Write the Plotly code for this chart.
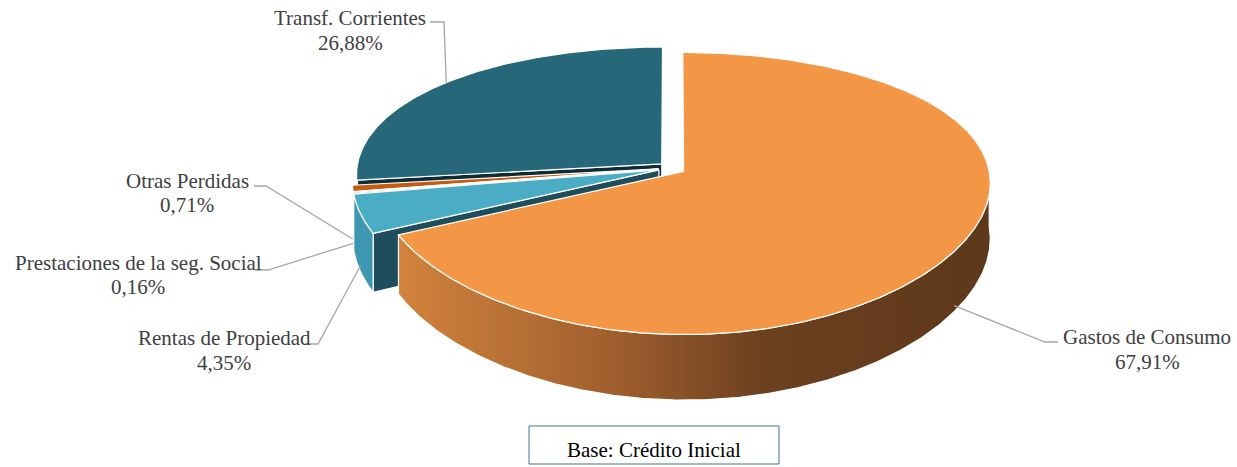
import numpy as np
import plotly.graph_objects as go

# ---------------- data ----------------
categories = ["Gastos de Consumo", "Rentas de Propiedad", "Prestaciones de la seg. Social",
              "Otras Perdidas", "Transf. Corrientes"]
values = [67.91, 4.35, 0.16, 0.71, 26.88]
base_text = "Base: Crédito Inicial"

# ---------------- style ----------------
top_colors = ["#F39645", "#4BACC6", "#7FB8C9", "#C55A11", "#26677A"]
face_colors = ["#8A5228", "#1F4D5C", "#3D7F92", "#7A3A0C", "#0F2B35"]
side_colors = [None, "#3E97B0", "#6FA8B8", "#A34B0E", "#1D5161"]
gastos_side_scale = [[0, "#D2833D"], [0.35, "#A2602E"], [0.62, "#6B401F"], [1, "#5E381B"]]

CX, CY = 672, 168
A = 305
B = 136.5
PX, PY = 0.08, 0.157      # perspective factors
DEPTH = 55
EXPLODE = 0.045

# label layout: name centre x, name y, value y, stub start x, elbow x, stub y
label_layout = [
    (1147, 337, 362, 1058, 1045, 342),
    (224, 338, 363, 305, 318, 344),
    (138, 263, 287, 255, 268, 270),
    (187, 181, 205, 254, 266, 186),
    (350, 18, 43, 430, 444, 22),
]
FONT = "Liberation Serif, Times New Roman, serif"


def pt(theta, r, mid, dzf=0.0):
    t = np.radians(theta)
    m = np.radians(mid)
    u = r * np.sin(t) + EXPLODE * np.sin(m)
    v = r * np.cos(t) + EXPLODE * np.cos(m)
    sx = 1.0 / (1.0 + PX * v)
    sy = 1.0 / (1.0 + PY * v)
    return CX + A * u * sx, CY - B * v * sy + dzf * DEPTH * sy


total = sum(values)
spans = [360.0 * v / total for v in values]
starts = np.concatenate([[0.0], np.cumsum(spans)[:-1]])

fig = go.Figure()


def poly(xs, ys, fillcolor=None, gradient=None):
    kw = dict(x=list(xs), y=list(ys), mode="lines", fill="toself",
              line=dict(color="white", width=1.2), hoverinfo="skip", showlegend=False)
    if gradient is not None:
        kw["fillgradient"] = dict(type="horizontal", colorscale=gradient)
    else:
        kw["fillcolor"] = fillcolor
    fig.add_trace(go.Scatter(**kw))


anchors = []
for i in range(len(values)):
    t1, t2 = starts[i], starts[i] + spans[i]
    mid = (t1 + t2) / 2
    if np.cos(np.radians(mid)) < 0:
        anchors.append(pt(mid, 1.0, mid, 0.9))
    else:
        anchors.append(pt(mid, 1.0, mid, 0))

order = [4, 3, 2, 1, 0]
for i in order:
    t1, t2 = starts[i], starts[i] + spans[i]
    mid = (t1 + t2) / 2
    vx, vy = pt(0, 0.0, mid)
    vbx, vby = pt(0, 0.0, mid, 1.0)
    # radial faces
    for th, visible in ((t1, np.sin(np.radians(t1)) < -1e-9), (t2, np.sin(np.radians(t2)) > 1e-9)):
        if visible:
            rx, ry = pt(th, 1.0, mid)
            rbx, rby = pt(th, 1.0, mid, 1.0)
            poly([vx, rx, rbx, vbx, vx], [vy, ry, rby, vby, vy], face_colors[i])
    # outer side wall (front part)
    s1, s2 = max(t1, 90.0), min(t2, 270.0)
    if s2 > s1:
        th = np.linspace(s1, s2, max(3, int(s2 - s1) * 2 + 2))
        ax, ay = pt(th, 1.0, mid)
        bx, by = pt(th, 1.0, mid, 1.0)
        xs = np.concatenate([ax, bx[::-1], ax[:1]])
        ys = np.concatenate([ay, by[::-1], ay[:1]])
        if i == 0:
            poly(xs, ys, gradient=gastos_side_scale)
        else:
            poly(xs, ys, side_colors[i])
    # top face
    th = np.linspace(t1, t2, max(3, int(t2 - t1) * 2 + 2))
    ax, ay = pt(th, 1.0, mid)
    xs = np.concatenate([[vx], ax, [vx]])
    ys = np.concatenate([[vy], ay, [vy]])
    poly(xs, ys, top_colors[i])

# leader lines and labels
for i, cat in enumerate(categories):
    nx, ny, valy, sx, ex, sy = label_layout[i]
    axp, ayp = anchors[i]
    fig.add_trace(go.Scatter(x=[sx, ex, float(axp)], y=[sy, sy, float(ayp)], mode="lines",
                             line=dict(color="#A6A6A6", width=1.3), hoverinfo="skip",
                             showlegend=False))
    pct = f"{values[i]:.2f}".replace(".", ",") + "%"
    fig.add_annotation(x=nx, y=ny, text=cat, showarrow=False, xanchor="center", yanchor="middle",
                       font=dict(family=FONT, size=21, color="#404040"))
    fig.add_annotation(x=nx, y=valy, text=pct, showarrow=False, xanchor="center", yanchor="middle",
                       font=dict(family=FONT, size=21, color="#404040"))

# base box
fig.add_shape(type="rect", x0=529, x1=779, y0=426, y1=464, xref="x", yref="y",
              line=dict(color="#41719C", width=1), fillcolor="white")
fig.add_annotation(x=654, y=450, text=base_text, showarrow=False, xanchor="center", yanchor="middle",
                   font=dict(family=FONT, size=21, color="#000000"))

fig.update_layout(
    width=1237, height=467, margin=dict(l=0, r=0, t=0, b=0),
    paper_bgcolor="white", plot_bgcolor="white",
    xaxis=dict(range=[0, 1237], visible=False, fixedrange=True),
    yaxis=dict(range=[467, 0], visible=False, fixedrange=True),
    hovermode=False,
)
fig.write_html("out.html", config={"displayModeBar": False},
               post_script="document.body.style.margin='0';document.body.style.overflow='hidden';")
